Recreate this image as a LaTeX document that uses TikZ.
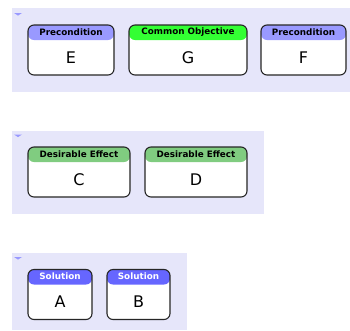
\documentclass[tikz,border=0pt]{standalone}
\usepackage{fontspec}
\setmainfont{DejaVu Sans}
\usepackage{xcolor}
\definecolor{panelbg}{RGB}{230,230,250}
\definecolor{precond}{RGB}{153,153,255}
\definecolor{objective}{RGB}{51,255,51}
\definecolor{effect}{RGB}{128,204,128}
\definecolor{solution}{RGB}{102,102,255}

\tikzset{
    panel/.style={fill=panelbg, draw=none},
    fold/.style={fill=precond, draw=none},
    card/.style={draw=black!85, line width=1.1pt, rounded corners=6pt, fill=white,
        minimum height=50pt, inner sep=0pt,
        path picture={\fill[#1] (path picture bounding box.north west) rectangle
            ([yshift=-15pt]path picture bounding box.north east);}},
    hdr/.style={font=\bfseries\fontsize{8.8}{8.8}\selectfont, inner sep=0pt, text=#1},
    letter/.style={font=\fontsize{16}{16}\selectfont, inner sep=0pt},
}

\begin{document}
\begin{tikzpicture}[x=1pt,y=-1pt]
        \useasboundingbox (0,0) rectangle (350,330);

        % groups
        \fill[panel] (12,8) rectangle (350,92);
        \fill[panel] (12,131) rectangle (264,214);
        \fill[panel] (12,253) rectangle (187,330);
        \foreach \y in {13,134.5,257} {
            \fill[fold] (14,\y) -- (22,\y) -- (18,\y+2.6) -- cycle;
        }

        % cards
        \foreach \n/\x/\y/\w/\c/\t/\h/\l in {e/71/50/86/precond/black/Precondition/E,
                                         g/188/50/118/objective/black/Common Objective/G,
                                         f/303.5/50/85/precond/black/Precondition/F,
                                         c/79/172/102/effect/black/Desirable Effect/C,
                                         d/196/172/102/effect/black/Desirable Effect/D,
                                         a/60/294.5/64/solution/white/Solution/A,
                                         b/138.5/294.5/63/solution/white/Solution/B} {
            \node[card=\c, minimum width=\w pt] (box\n) at (\x,\y) {};
            \node[hdr=\t] (head\n) at ([yshift=-7.5pt]box\n.north) {\h};
            \node[letter] (let\n) at ([yshift=-7.5pt]box\n.center) {\l};
        }
    \end{tikzpicture}
\end{document}
